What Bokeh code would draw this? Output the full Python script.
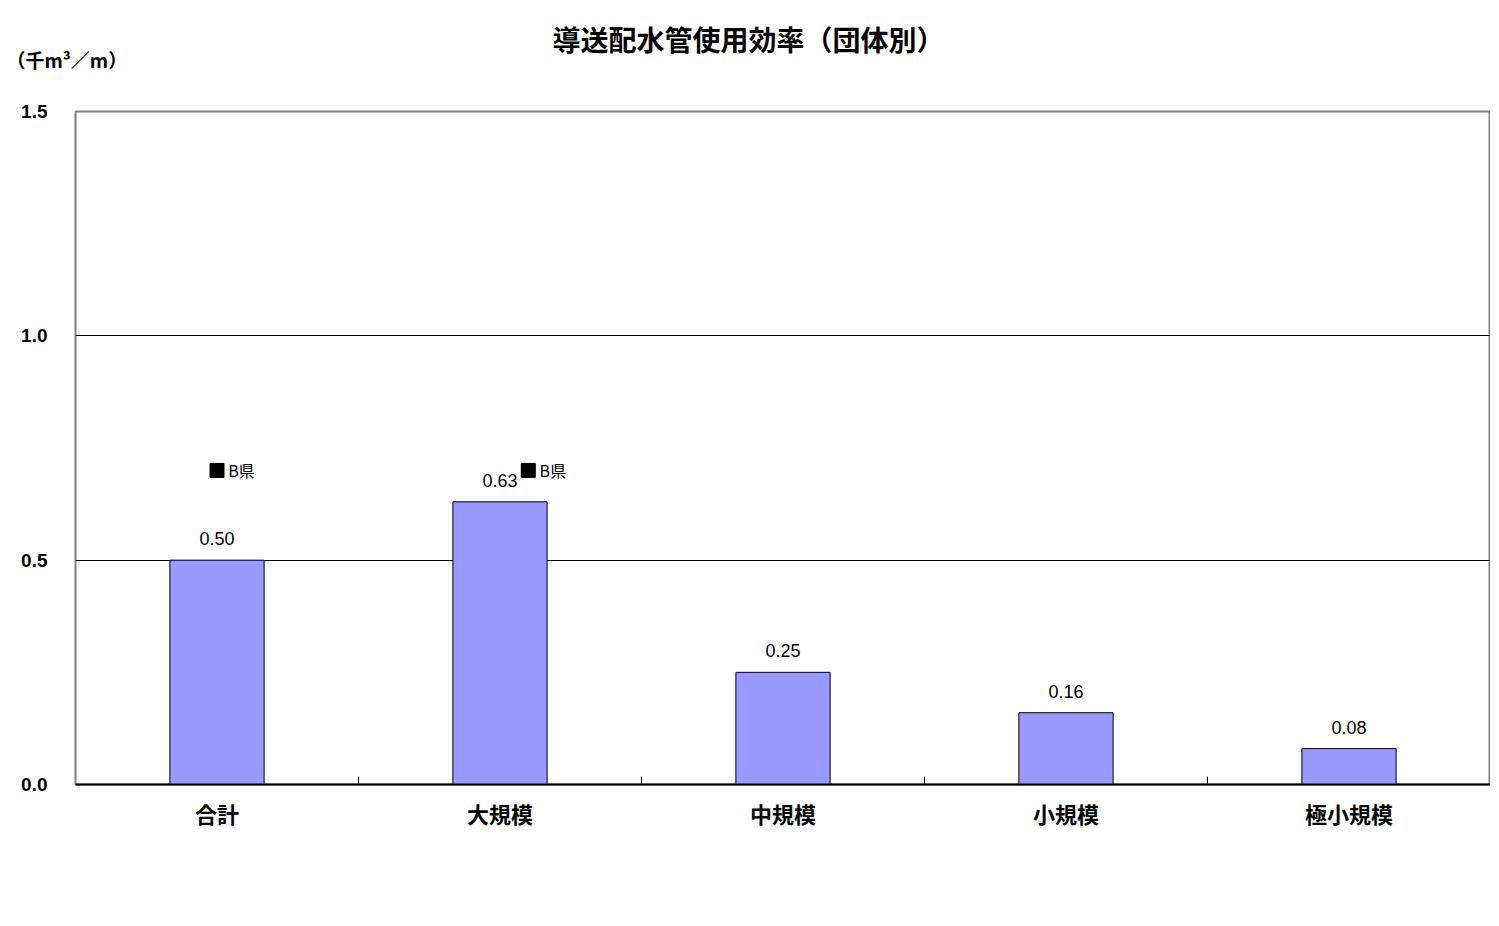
from bokeh.plotting import figure
from bokeh.models import ColumnDataSource, FixedTicker, Range1d, LabelSet, Label
from bokeh.core.properties import value
from bokeh.embed import file_html
from bokeh.resources import INLINE

categories = ["合計", "大規模", "中規模", "小規模", "極小規模"]
values = [0.50, 0.63, 0.25, 0.16, 0.08]
value_labels = ["0.50", "0.63", "0.25", "0.16", "0.08"]
pref_values = [0.70, 0.70]          # B県 markers for 合計 and 大規模
pref_label = "B県"
y_ticks = [0.0, 0.5, 1.0, 1.5]

FONT = "Noto Sans CJK JP"
W, H = 1490, 918

xs = [i + 0.5 for i in range(len(categories))]
src = ColumnDataSource(dict(x=xs, top=values, lab=value_labels))

p = figure(width=W, height=H, output_backend="svg", toolbar_location=None,
           x_range=Range1d(0, len(categories)), y_range=Range1d(0, 1.5),
           min_border_left=75, min_border_right=0, min_border_top=111,
           min_border_bottom=134)
p.background_fill_color = "white"
p.border_fill_color = "white"
p.outline_line_color = "#808080"
p.outline_line_width = 2

p.vbar(x="x", top="top", width=0.333, source=src, fill_color="#9999FF",
       line_color="black", line_width=1)

lbls = LabelSet(x="x", y="top", text="lab", source=src, text_align="center",
                text_baseline="bottom", y_offset=15, text_font=value("Liberation Sans"),
                text_font_size="18px", text_color="black")
p.add_layout(lbls)

# B県 markers
px = [xs[0], xs[1] + 0.1]
p.scatter(px, pref_values, marker="square", size=14, fill_color="black", line_color="black")
p.text([x + 0.04 for x in px], pref_values, text=[pref_label] * 2,
       text_font=value(FONT), text_font_size="16px", text_baseline="middle",
       text_align="left", color="black")

# x axis
p.xaxis.ticker = FixedTicker(ticks=xs, minor_ticks=list(range(1, len(categories))))
p.xaxis.major_label_overrides = {x: c for x, c in zip(xs, categories)}
p.xaxis.major_tick_line_color = None
p.xaxis.minor_tick_in = 8
p.xaxis.minor_tick_out = 0
p.xaxis.minor_tick_line_color = "black"
p.xaxis.axis_line_color = "black"
p.xaxis.axis_line_width = 2
p.xaxis.major_label_text_font = FONT
p.xaxis.major_label_text_font_style = "bold"
p.xaxis.major_label_text_font_size = "22px"
p.xaxis.major_label_text_color = "black"
p.xaxis.major_label_standoff = 6

# y axis
p.yaxis.ticker = FixedTicker(ticks=y_ticks)
p.yaxis.major_label_overrides = {t: f"{t:.1f}" for t in y_ticks}
p.yaxis.axis_line_color = None
p.yaxis.major_tick_line_color = None
p.yaxis.minor_tick_line_color = None
p.yaxis.major_label_text_font = "Liberation Sans"
p.yaxis.major_label_text_font_style = "bold"
p.yaxis.major_label_text_font_size = "19px"
p.yaxis.major_label_text_color = "black"
p.yaxis.major_label_standoff = 22

p.xgrid.grid_line_color = None
p.ygrid.ticker = FixedTicker(ticks=[0.5, 1.0])
p.ygrid.grid_line_color = "black"
p.ygrid.grid_line_width = 1

title = Label(x=673, y=73, x_units="screen", y_units="screen",
              text="導送配水管使用効率（団体別）", text_align="center",
              text_baseline="middle", text_font=FONT, text_font_style="bold",
              text_font_size="28px", text_color="black")
units = Label(x=-69, y=12, x_units="screen", y_units="screen",
              text="（千m³／m）", text_align="left", text_baseline="middle",
              text_font=FONT, text_font_style="bold", text_font_size="19px",
              text_color="black")
p.add_layout(title, "above")
p.add_layout(units, "above")

open("out.html", "w").write(file_html(p, INLINE))
